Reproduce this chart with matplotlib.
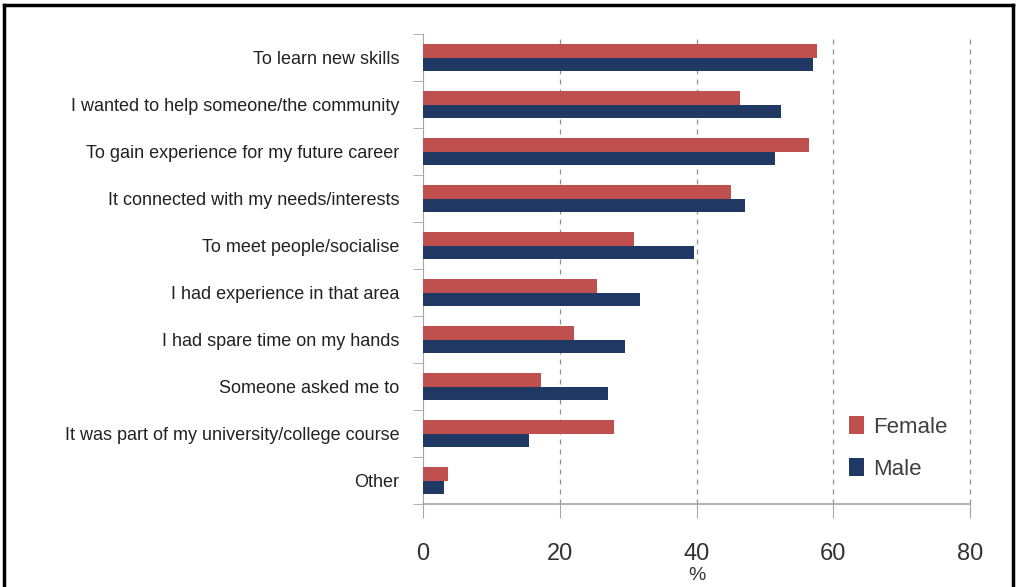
import matplotlib

matplotlib.use('agg')
import matplotlib.pyplot as plt
import numpy as np
from matplotlib.lines import Line2D

categories = [
    'To learn new skills',
    'I wanted to help someone/the community',
    'To gain experience for my future career',
    'It connected with my needs/interests',
    'To meet people/socialise',
    'I had experience in that area',
    'I had spare time on my hands',
    'Someone asked me to',
    'It was part of my university/college course',
    'Other',
]
female = [57.6, 46.4, 56.5, 45.0, 30.8, 25.4, 22.1, 17.3, 27.9, 3.7]
male = [57.0, 52.4, 51.4, 47.1, 39.6, 31.7, 29.5, 27.0, 15.5, 3.1]
x_ticks = [0, 20, 40, 60, 80]

red = '#c0504d'
navy = '#1f3864'
grey = '#a6a6a6'
font = ['Liberation Sans', 'DejaVu Sans']

fig = plt.figure(figsize=(10.17, 5.87), dpi=100)
ax = fig.add_axes([0.416, 0.141, 0.538, 0.801])

y = np.arange(len(categories))
h = 0.29
ax.barh(y - h / 2, female, height=h, color=red, label='Female', zorder=3)
ax.barh(y + h / 2, male, height=h, color=navy, label='Male', zorder=3)

ax.set_ylim(len(categories) - 0.5, -0.5)
ax.set_xlim(0, 80)
ax.set_xticks(x_ticks)
ax.set_xticklabels([str(v) for v in x_ticks], fontsize=17, family=font, color='#333333')
ax.set_yticks(y)
ax.set_yticklabels(categories, fontsize=13, family=font, color='#222222')
ax.set_yticks(np.arange(len(categories) + 1) - 0.5, minor=True)
ax.tick_params(axis='y', which='major', length=0, pad=17)
ax.tick_params(axis='y', which='minor', length=7, color=grey, direction='out')
ax.tick_params(axis='x', length=10, color=grey, pad=18)

# dashed vertical gridlines (drawn by hand so the one at 80 is not clipped)
for v in x_ticks[1:]:
    ax.axvline(v, linestyle=(0, (4, 4)), color='#909090', linewidth=0.9, zorder=0, clip_on=False)
for side in ['top', 'right']:
    ax.spines[side].set_visible(False)
ax.spines['left'].set_color(grey)
ax.spines['bottom'].set_color(grey)
ax.spines['bottom'].set_linewidth(1.2)

ax.set_xlabel('%', fontsize=14, family=font, color='#333333', labelpad=1)

leg = ax.legend(loc='lower right', bbox_to_anchor=(0.995, 0.01), frameon=False,
                prop={'family': font, 'size': 16}, handlelength=0.7, handleheight=0.9,
                handletextpad=0.4, labelspacing=0.9)
for t in leg.get_texts():
    t.set_color('#404040')

# outer frame (left, top, right)
W, H = 1017, 587
fig.add_artist(Line2D([4 / W, 4 / W], [0, 1 - 5 / H], transform=fig.transFigure, color='black', lw=2.5))
fig.add_artist(Line2D([4 / W, 1013 / W], [1 - 5 / H, 1 - 5 / H], transform=fig.transFigure, color='black', lw=2.5))
fig.add_artist(Line2D([1013 / W, 1013 / W], [0, 1 - 5 / H], transform=fig.transFigure, color='black', lw=2.5))

fig.savefig('out.png', dpi=100)
plt.close(fig)
